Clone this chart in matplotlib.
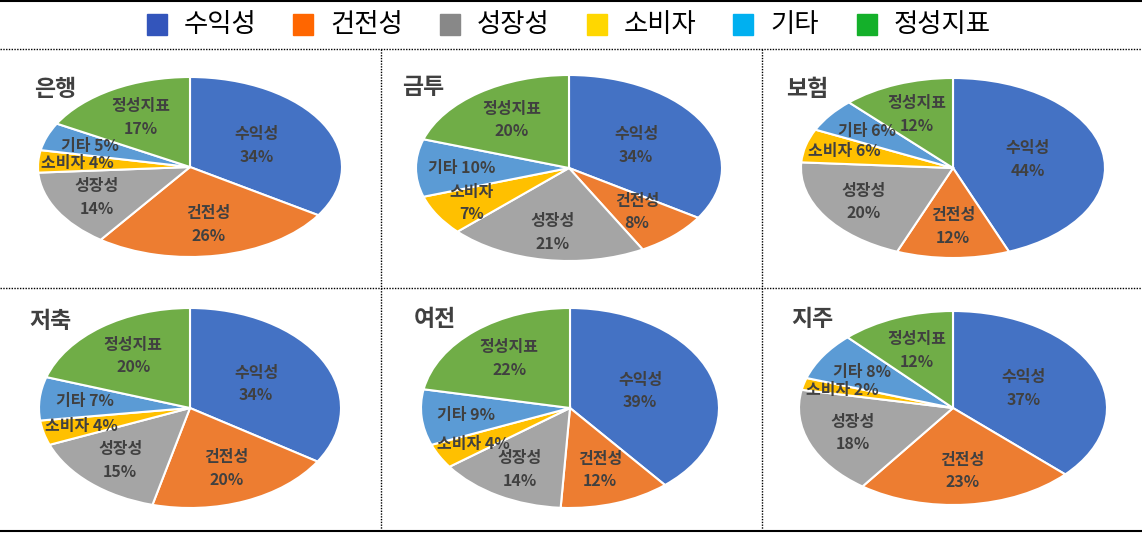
import matplotlib
matplotlib.use('Agg')
import matplotlib.pyplot as plt
from matplotlib.patches import Rectangle
import numpy as np

plt.rcParams['font.family'] = ['Noto Sans CJK KR', 'DejaVu Sans']

# 데이터
categories = ['수익성', '건전성', '성장성', '소비자', '기타', '정성지표']
sectors = ['은행', '금투', '보험', '저축', '여전', '지주']
values = {
    '은행': [34, 26, 14, 4, 5, 17],
    '금투': [34, 8, 21, 7, 10, 20],
    '보험': [44, 12, 20, 6, 6, 12],
    '저축': [34, 20, 15, 4, 7, 20],
    '여전': [39, 12, 14, 4, 9, 22],
    '지주': [37, 23, 18, 2, 8, 12],
}
# 한 줄로 표시되는 라벨 (카테고리 index)
one_line = {
    '은행': [3, 4], '금투': [4], '보험': [3, 4],
    '저축': [3, 4], '여전': [3, 4], '지주': [3, 4],
}

pie_colors = ['#4472C4', '#ED7D31', '#A5A5A5', '#FFC000', '#5B9BD5', '#70AD47']
legend_colors = ['#3355BB', '#FF6600', '#888888', '#FFD700', '#00B0F0', '#14B02A']
# 라벨 반지름 비율 (카테고리별)
label_r = [0.5, 0.65, 0.7, 0.74, 0.7, 0.64]

W, H = 1142, 533
fig = plt.figure(figsize=(W / 100, H / 100), dpi=100)
bg = fig.add_axes([0, 0, 1, 1])
bg.set_xlim(0, W)
bg.set_ylim(H, 0)
bg.axis('off')

# 표 테두리
bg.plot([0, W], [1, 1], color='black', lw=1.5)
bg.plot([0, W], [531, 531], color='black', lw=1.5)
for y in [49, 288]:
    bg.plot([0, W], [y, y], color='black', lw=1, ls=(0, (1, 1)))
for x in [381, 762]:
    bg.plot([x, x], [49, 531], color='black', lw=1, ls=(0, (1, 1)))

# 범례
legend_x = [147, 293, 440, 587, 733, 857]
for x, lab, c in zip(legend_x, categories, legend_colors):
    bg.add_patch(Rectangle((x, 14), 20, 21, color=c))
    bg.text(x + 37, 25, lab, fontsize=19, va='center', ha='left', color='black')

# 파이 위치 (중심 x, 중심 y, 가로 반지름, 세로 반지름)
layout = {
    '은행': (190, 167, 152, 90),
    '금투': (569, 168, 153, 93),
    '보험': (953, 168, 152, 90),
    '저축': (190, 408, 151, 100),
    '여전': (570, 408, 149, 100),
    '지주': (953, 408, 154, 97),
}
title_pos = {
    '은행': (34, 90), '금투': (402, 87), '보험': (786, 89),
    '저축': (29, 322), '여전': (414, 320), '지주': (791, 320),
}

for name in sectors:
    cx, cy, rx, ry = layout[name]
    ax = fig.add_axes([(cx - rx) / W, (H - cy - ry) / H, 2 * rx / W, 2 * ry / H])
    vals = values[name]
    wedges, _ = ax.pie(vals, colors=pie_colors, startangle=90, counterclock=False,
                       radius=1, wedgeprops=dict(edgecolor='white', linewidth=1.5))
    ax.set_aspect('auto')
    ax.set_xlim(-1, 1)
    ax.set_ylim(-1, 1)
    for i, (w, v) in enumerate(zip(wedges, vals)):
        mid = np.deg2rad((w.theta1 + w.theta2) / 2)
        r = label_r[i]
        if i in one_line[name]:
            txt = f'{categories[i]} {v}%'
        else:
            txt = f'{categories[i]}\n{v}%'
        ax.text(r * np.cos(mid), r * np.sin(mid), txt, ha='center', va='center',
                fontsize=11.5, fontweight='bold', color='#404040',
                linespacing=1.5, clip_on=False)
    tx, ty = title_pos[name]
    bg.text(tx, ty, name, fontsize=16.5, fontweight='bold', color='#404040',
            ha='left', va='center')

fig.savefig('out.png', dpi=100)
